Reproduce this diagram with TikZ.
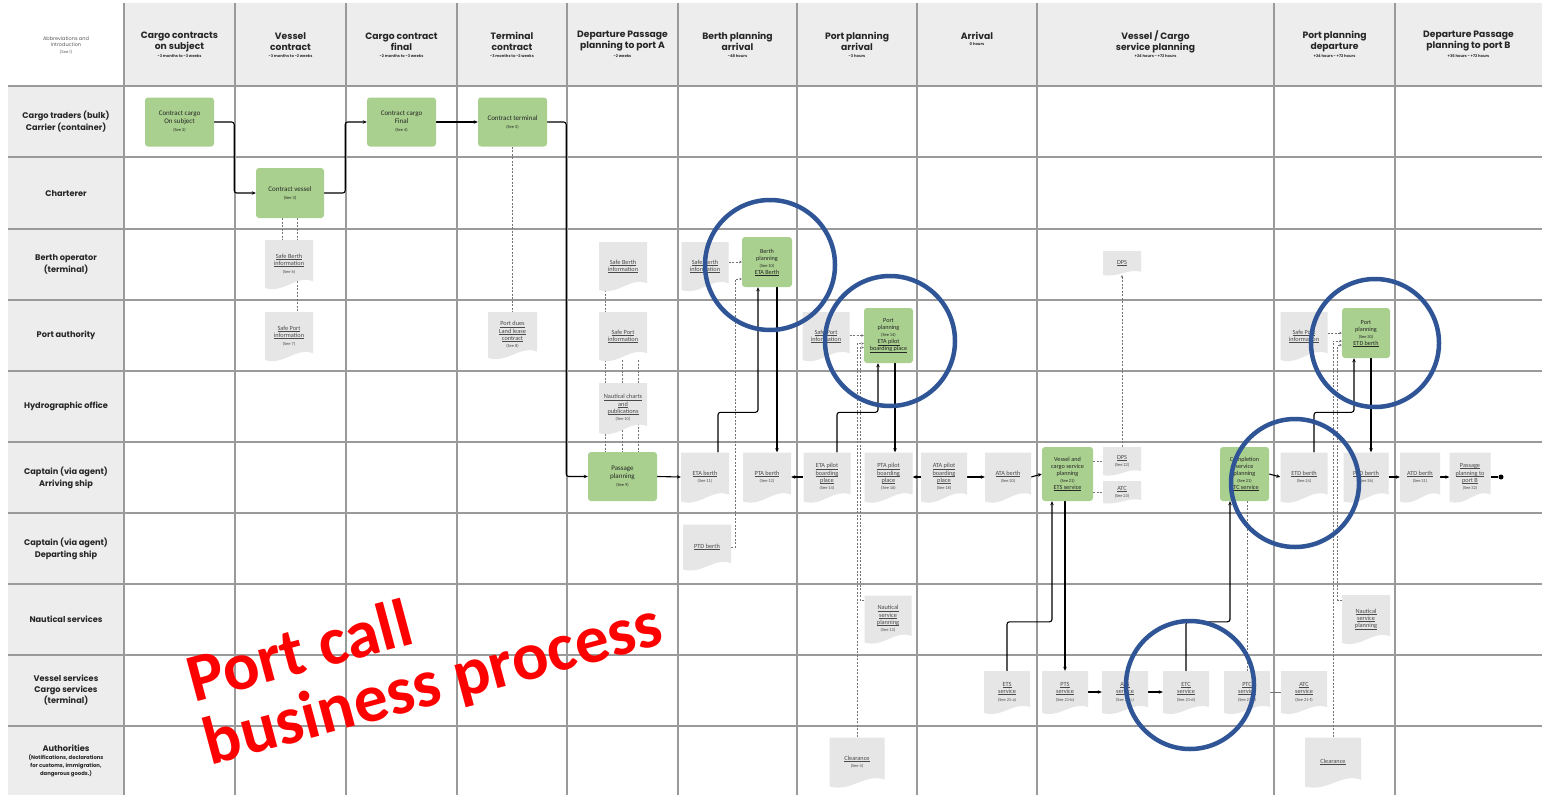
\documentclass[tikz,border=0pt]{standalone}
\usepackage{fontspec}
\setmainfont{Carlito}
\newfontfamily\hfont{Poppins}
\usetikzlibrary{arrows.meta,calc}
\definecolor{gridc}{HTML}{9A9A9A}
\definecolor{hdrfill}{HTML}{EDEDED}
\definecolor{boxgreen}{HTML}{A9D08E}
\definecolor{docfill}{HTML}{E6E6E6}
\definecolor{doctext}{HTML}{4A4A4A}
\definecolor{circblue}{HTML}{2F5597}
\pgfdeclarelayer{gridlayer}\pgfdeclarelayer{linelayer}\pgfdeclarelayer{toplayer}
\pgfsetlayers{gridlayer,linelayer,main,toplayer}
\newcommand\sn[1]{{\fontsize{4.4}{5}\selectfont (See #1)}}
\newcommand\ul[1]{\setbox0\hbox{#1}\leavevmode\rlap{\rule[-0.9pt]{\wd0}{0.3pt}}\box0}
\newcommand\docn[6]{%
  \fill[docfill] ({#2-#4/2},{#3-#5/2}) -- ({#2+#4/2},{#3-#5/2}) -- ({#2+#4/2},{#3+0.36*#5})
    .. controls ({#2+0.15*#4},{#3+0.22*#5}) and ({#2-0.1*#4},{#3+0.62*#5}) .. ({#2-#4/2},{#3+#5/2}) -- cycle;
  \node[dtext, minimum width=#4pt, minimum height=#5pt] (#1) at (#2,#3) {#6};
}
\begin{document}
\begin{tikzpicture}[x=1pt,y=-1pt,
  gridline/.style={draw=gridc, line width=1.1pt},
  hdr/.style={font=\hfont\bfseries\fontsize{9.2}{11}\selectfont, text=black!85, align=center, inner sep=0pt},
  hsub/.style={font=\hfont\bfseries\fontsize{3.8}{4.5}\selectfont, text=black!80, align=center, inner sep=0pt},
  rlab/.style={font=\hfont\bfseries\fontsize{8.2}{12}\selectfont, text=black!85, align=center, inner sep=0pt},
  gbox/.style={fill=boxgreen, rounded corners=3pt, align=center, inner sep=1pt, font=\fontsize{7}{8}\selectfont, text=black!85},
  sgbox/.style={gbox, font=\fontsize{6.2}{7}\selectfont},
  dtext/.style={align=center, inner sep=0pt, font=\fontsize{6.3}{7.3}\selectfont, text=doctext},
  flow/.style={draw=black, line width=1.1pt, rounded corners=2.5pt, -{Stealth[length=4pt,width=3.5pt]}},
  dline/.style={draw=black!55, line width=0.7pt, dash pattern=on 2pt off 1.5pt},
  darr/.style={dline, -{Stealth[length=2.5pt,width=2.5pt]}},
  circ/.style={draw=circblue, line width=4.5pt}]
\useasboundingbox (0,0) rectangle (1542,795);

\begin{pgfonlayer}{gridlayer}
\fill[white] (0,0) rectangle (1542,795);
\fill[hdrfill] (124,3) rectangle (1542,86);
\fill[hdrfill] (8,86) rectangle (124,795);
\foreach \x in {124,235,346,457,567,678,797,917,1037,1274,1395} \draw[gridline] (\x,3) -- (\x,795);
\foreach \y in {86,157,229,300,371,442,513,584,655,726} \draw[gridline] (8,\y) -- (1542,\y);
\end{pgfonlayer}

% header
\node[font=\hfont\fontsize{5}{6.5}\selectfont, text=black!65, align=center, inner sep=0pt] (h0) at (66,45) {Abbreviations and\\introduction\\{\fontsize{3.8}{4.5}\selectfont (See 1)}};
\node[hdr] (h1) at (179.5,41.5) {Cargo contracts\\on subject};
\node[hsub] (h1s) at (179.5,56) {-3 months to -3 weeks};
\node[hdr] (h2) at (290.5,41.5) {Vessel\\contract};
\node[hsub] (h2s) at (290.5,56) {-3 months to -2 weeks};
\node[hdr] (h3) at (401.5,41.5) {Cargo contract\\final};
\node[hsub] (h3s) at (401.5,56) {-2 months to -3 weeks};
\node[hdr] (h4) at (512,41.5) {Terminal\\contract};
\node[hsub] (h4s) at (512,56) {-3 months to -2 weeks};
\node[hdr] (h5) at (622.5,41.5) {Departure Passage\\planning to port A};
\node[hsub] (h5s) at (622.5,56) {-2 weeks};
\node[hdr] (h6) at (737.5,41.5) {Berth planning\\arrival};
\node[hsub] (h6s) at (737.5,56) {-48 hours};
\node[hdr] (h7) at (857,41.5) {Port planning\\arrival};
\node[hsub] (h7s) at (857,56) {-3 hours};
\node[hdr] (h8) at (977,36) {Arrival};
\node[hsub] (h8s) at (977,44) {0 hours};
\node[hdr] (h9) at (1155.5,41.5) {Vessel / Cargo\\service planning};
\node[hsub] (h9s) at (1155.5,56) {+24 hours - +72 hours};
\node[hdr] (h10) at (1334.5,41.5) {Port planning\\departure};
\node[hsub] (h10s) at (1334.5,56) {+24 hours - +72 hours};
\node[hdr] (h11) at (1468.5,41.5) {Departure Passage\\planning to port B};
\node[hsub] (h11s) at (1468.5,56) {+36 hours - +72 hours};

% row labels
\node[rlab] (r1) at (66,122) {Cargo traders (bulk)\\Carrier (container)};
\node[rlab] (r2) at (66,193) {Charterer};
\node[rlab] (r3) at (66,264.5) {Berth operator\\(terminal)};
\node[rlab] (r4) at (66,335.5) {Port authority};
\node[rlab] (r5) at (66,406.5) {Hydrographic office};
\node[rlab] (r6) at (66,477.5) {Captain (via agent)\\Arriving ship};
\node[rlab] (r7) at (66,548.5) {Captain (via agent)\\Departing ship};
\node[rlab] (r8) at (66,619.5) {Nautical services};
\node[rlab, font=\hfont\bfseries\fontsize{8.2}{11}\selectfont] (r9) at (66,690.5) {Vessel services\\Cargo services\\(terminal)};
\node[rlab, font=\hfont\bfseries\fontsize{5.3}{7.8}\selectfont] (r10) at (66,761) {{\fontsize{8.2}{8}\selectfont Authorities}\\(Notifications, declarations\\for customs, immigration,\\dangerous goods.)};

% green boxes
\node[gbox, minimum width=69pt, minimum height=49pt] (G1) at (179.5,122) {Contract cargo\\On subject\\\sn{2}};
\node[gbox, minimum width=68pt, minimum height=50pt] (G2) at (290,193) {Contract vessel\\\sn{3}};
\node[gbox, minimum width=69pt, minimum height=49pt] (G3) at (401.5,122) {Contract cargo\\Final\\\sn{4}};
\node[gbox, minimum width=69pt, minimum height=49pt] (G4) at (512.5,122) {Contract terminal\\\sn{5}};
\node[gbox, minimum width=69pt, minimum height=49pt] (G5) at (622.5,476.5) {Passage\\planning\\\sn{9}};
\node[sgbox, minimum width=50pt, minimum height=50pt] (G6) at (767,262) {Berth\\planning\\\sn{10}\\\ul{ETA Berth}};
\node[sgbox, minimum width=49pt, minimum height=55pt] (G7) at (888.5,335.5) {Port\\planning\\\sn{14}\\\ul{ETA pilot}\\\ul{boarding place}};
\node[sgbox, minimum width=51pt, minimum height=54pt] (G8) at (1067.5,474) {Vessel and\\cargo service\\planning\\\sn{21}\\\ul{ETS service}};
\node[sgbox, minimum width=49pt, minimum height=54pt] (G9) at (1244.5,474) {Completion\\service\\planning\\\sn{21}\\\ul{ETC service}};
\node[sgbox, minimum width=48pt, minimum height=50pt] (G10) at (1366,333) {Port\\planning\\\sn{30}\\\ul{ETD berth}};

% documents
\docn{SB1}{289}{264}{48}{48}{\ul{Safe Berth}\\\ul{information}\\\sn{6}}
\docn{SP1}{289}{336}{48}{48}{\ul{Safe Port}\\\ul{information}\\\sn{7}}
\docn{PD}{512.5}{335}{49}{46}{\ul{Port dues}\\\ul{Land lease}\\\ul{contract}\\\sn{8}}
\docn{SB2}{623}{266}{48}{48}{\ul{Safe Berth}\\\ul{information}}
\docn{SP2}{623}{336}{48}{48}{\ul{Safe Port}\\\ul{information}}
\docn{NC}{623}{408}{48}{50}{\ul{Nautical charts}\\\ul{and}\\\ul{publications}\\\sn{10}}
\docn{SB3}{705}{266}{47}{48}{\ul{Safe Berth}\\\ul{information}}
\docn{SP3}{826}{336}{47}{48}{\ul{Safe Port}\\\ul{information}}
\docn{SP4}{1304}{336}{47}{48}{\ul{Safe Port}\\\ul{information}}
\docn{DPS1}{1122}{263}{38}{24}{\ul{DPS}}
\docn{Detab}{705}{477}{48}{49}{\ul{ETA berth}\\\sn{11}}
\docn{Dptab}{767}{477}{48}{49}{\ul{PTA berth}\\\sn{12}}
\docn{Detap}{827}{477}{47}{49}{\ul{ETA pilot}\\\ul{boarding}\\\ul{place}\\\sn{14}}
\docn{Dptap}{888.5}{477}{48}{49}{\ul{PTA pilot}\\\ul{boarding}\\\ul{place}\\\sn{16}}
\docn{Datap}{944}{477}{46}{49}{\ul{ATA pilot}\\\ul{boarding}\\\ul{place}\\\sn{18}}
\docn{Datab}{1008}{477}{46}{49}{\ul{ATA berth}\\\sn{20}}
\docn{DPS2}{1122}{461}{38}{28}{\ul{DPS}\\\sn{22}}
\docn{Datc}{1122}{492}{38}{22}{\ul{ATC}\\\sn{23}}
\docn{Detdb}{1304}{477}{47}{49}{\ul{ETD berth}\\\sn{24}}
\docn{Dptdb}{1366}{477}{45}{49}{\ul{PTD berth}\\\sn{26}}
\docn{Datdb}{1420}{477}{40}{49}{\ul{ATD berth}\\\sn{31}}
\docn{Dppb}{1470}{477}{41}{49}{\ul{Passage}\\\ul{planning to}\\\ul{port B}\\\sn{32}}
\docn{Dptd}{707}{547}{48}{45}{\ul{PTD berth}}
\docn{NS1}{888}{619}{47}{47}{\ul{Nautical}\\\ul{service}\\\ul{planning}\\\sn{13}}
\docn{NS2}{1366}{619}{48}{48}{\ul{Nautical}\\\ul{service}\\\ul{planning}}
\docn{CL1}{857}{762}{55}{49}{\ul{Clearance}\\\sn{4}}
\docn{CL2}{1333}{762}{56}{49}{\ul{Clearance}}
\docn{Sets}{1007}{692}{46}{42}{\ul{ETS}\\\ul{service}\\\sn{21-a}}
\docn{Spts}{1065}{692}{46}{42}{\ul{PTS}\\\ul{service}\\\sn{21-b}}
\docn{Sats}{1125}{692}{46}{42}{\ul{ATS}\\\ul{service}\\\sn{21-c}}
\docn{Setc}{1186}{692}{46}{42}{\ul{ETC}\\\ul{service}\\\sn{21-d}}
\docn{Sptc}{1247}{692}{46}{42}{\ul{PTC}\\\ul{service}\\\sn{21-e}}
\docn{Satc}{1304}{692}{46}{42}{\ul{ATC}\\\ul{service}\\\sn{21-f}}
\node[circle, fill=black, inner sep=0pt, minimum size=5pt] (endpt) at (1501,477) {};

\begin{pgfonlayer}{linelayer}
% solid flow
\draw[flow] (G1.east) -- ([xshift=20pt]G1.east) |- (G2.west);
\draw[flow] (G2.east) -- ([xshift=21pt]G2.east) |- (G3.west);
\draw[flow] (G3.east) -- (G4.west);
\draw[flow] (G4.east) -- ([xshift=19pt]G4.east) |- (G5.west);
\draw[flow] (G5.east) -- (Detab.west);
\draw[flow] ([xshift=13pt]Detab.north) -- ++(0,-40) -| ([xshift=-9pt]G6.south);
\draw[flow] ([xshift=10pt]G6.south) -- ([xshift=10pt]Dptab.north);
\draw[flow] (Detap.west) -- (Dptab.east);
\draw[flow] ([xshift=10pt]Detap.north) -- ++(0,-40) -| ([xshift=-10.5pt]G7.south);
\draw[flow] ([xshift=6.5pt]G7.south) -- ([xshift=6.5pt]Dptap.north);
\draw[flow] (Datap.west) -- (Dptap.east);
\draw[flow] (Datap.east) -- (Datab.west);
\draw[flow] (Datab.east) -- (G8.west);
\draw[flow] (Sets.north) -- ++(0,-49) -| ([xshift=-15.5pt]G8.south);
\draw[flow] ([xshift=-2.5pt]G8.south) -- (Spts.north);
\draw[flow] (Spts.east) -- (Sats.west);
\draw[flow] (Sats.east) -- (Setc.west);
\draw[flow] (Setc.north) -- ++(0,-49) -| ([xshift=-14.5pt]G9.south);
\draw[draw=black!55, line width=0.6pt] (Sptc.east) -- (Satc.west);
\draw[flow] (G9.east) -- (Detdb.west);
\draw[flow] ([xshift=10pt]Detdb.north) -- ++(0,-40) -| ([xshift=-12pt]G10.south);
\draw[flow] ([xshift=5pt]G10.south) -- ([xshift=5pt]Dptdb.north);
\draw[flow] (Dptdb.east) -- (Datdb.west);
\draw[flow] (Datdb.east) -- (Dppb.west);
\draw[draw=black, line width=1.1pt] (Dppb.east) -- (endpt);
% dashed
\draw[dline] ([xshift=-8pt]G2.south) -- ([xshift=-7pt]SB1.north);
\draw[dline] ([xshift=7pt]G2.south) -- ([xshift=8pt]SP1.north);
\draw[dline] (G4.south) -- (PD.north);
\draw[dline] ([xshift=-18pt]SB2.south) -- ([xshift=-17.5pt]G5.north);
\draw[dline] ([xshift=-1pt]SP2.south) -- ([xshift=-0.5pt]G5.north);
\draw[dline] ([xshift=15pt]SP2.south) -- ([xshift=15.5pt]G5.north);
\draw[darr] (SB3.east |- G6.west) -- (G6.west);
\draw[darr] (Dptd.east) -- ++(4,0) |- ([yshift=-17pt]G6.west);
\draw[darr] (SP3.east |- G7.west) -- (G7.west);
\draw[darr] (CL1.north) |- ([yshift=-8pt]G7.west);
\draw[darr] ([yshift=19pt]NS1.west) -- ++(-4,0) |- ([yshift=-12pt]G7.west);
\draw[darr] (SP4.east |- G10.west) -- (G10.west);
\draw[darr] (CL2.north) |- ([yshift=-8pt]G10.west);
\draw[darr] ([yshift=19pt]NS2.west) -- ++(-4,0) |- ([yshift=-12pt]G10.west);
\draw[dline] (G8.east |- DPS2.west) -- (DPS2.west);
\draw[dline] (G8.east |- Datc.west) -- (Datc.west);
\draw[darr] (DPS2.north) -- (DPS1.south);
\draw[dline] ([xshift=2.5pt]G9.south) -- (Sptc.north);
\end{pgfonlayer}

\begin{pgfonlayer}{toplayer}
\draw[circ] (770,265) circle[radius=65];
\draw[circ] (890,341) circle[radius=65];
\draw[circ] (1375,343) circle[radius=64];
\draw[circ] (1295,483) circle[radius=64];
\draw[circ] (1190,685) circle[radius=64];
\node[rotate=15, align=left, text=red, font=\bfseries\fontsize{68}{65}\selectfont, inner sep=0pt] (title) at (425,655) {Port call\\business process};
\end{pgfonlayer}
\end{tikzpicture}
\end{document}
